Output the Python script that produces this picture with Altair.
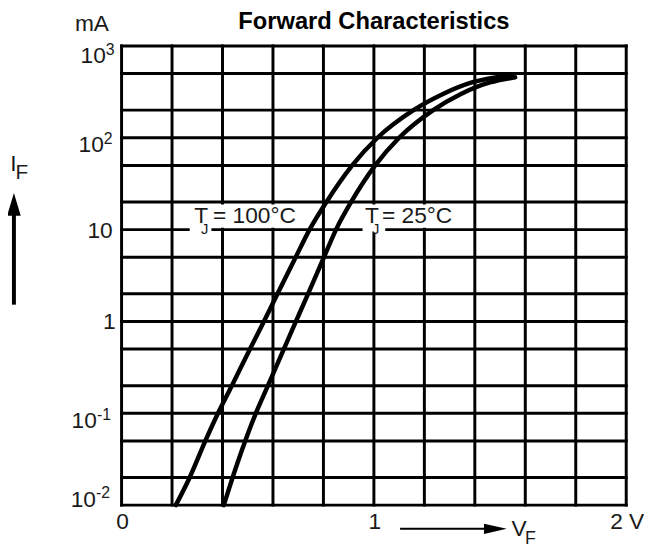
import altair as alt
import pandas as pd

# ---------------- data ----------------
x_grid = [0.0, 0.2, 0.4, 0.6, 0.8, 1.0, 1.2, 1.4, 1.6, 1.8, 2.0]
y_grid = [0.01, 0.02, 0.05, 0.1, 0.2, 0.5, 1, 2, 5, 10, 20, 50, 100, 200, 500, 1000]

# Tj = 100 °C
v_100 = [0.215, 0.27, 0.332, 0.382, 0.437, 0.509, 0.564, 0.618, 0.69, 0.745, 0.812,
         0.914, 1.014, 1.157, 1.274, 1.388, 1.548]
i_100 = [0.01, 0.02, 0.05, 0.1, 0.2, 0.5, 1, 2, 5, 10, 20,
         50, 100, 200, 300, 400, 480]

# Tj = 25 °C
v_25 = [0.405, 0.44, 0.49, 0.532, 0.58, 0.643, 0.691, 0.739, 0.802, 0.85, 0.91,
        1.005, 1.10, 1.235, 1.345, 1.46, 1.56]
i_25 = [0.01, 0.02, 0.05, 0.1, 0.2, 0.5, 1, 2, 5, 10, 20,
        50, 100, 200, 300, 400, 455]

x_tick_vals = [0, 1, 2]
x_tick_text = ["0", "1", "2 V"]

y_tick_vals = [1000, 100, 10, 1, 0.1, 0.01]
y_tick_base = ["10", "10", "10", "1", "10", "10"]
y_tick_exp = ["3", "2", "", "", "-1", "-2"]

# curve labels (annotation anchors in data units)
lab_T_x = [0.288, 0.965]
lab_J_x = [0.315, 0.992]
lab_eq_x = [0.3625, 1.032]
lab_eq_text = ["= 100°C", "= 25°C"]
lab_y = [14, 14]
lab_J_y = [10.2, 10.2]

# white backgrounds behind the labels
box_x1 = [0.262, 0.27, 0.90, 0.955]
box_x2 = [0.77, 0.356, 1.36, 1.045]
box_y1 = [10.5, 9.3, 10.5, 9.3]
box_y2 = [18.8, 10.6, 18.8, 10.6]

# ---------------- chart ----------------
W, H = 511, 465
FONT = "Liberation Sans"
TXT = "#1a1a1a"

xs = alt.Scale(domain=[0, 2], nice=False, zero=False)
ys = alt.Scale(type="log", domain=[0.01, 1000], nice=False)


def X(f):
    return alt.X(f, type="quantitative", scale=xs, axis=None)


def Y(f):
    return alt.Y(f, type="quantitative", scale=ys, axis=None)


def one(text):
    return pd.DataFrame({"t": [text]})


layers = []

# grid
layers.append(
    alt.Chart(pd.DataFrame({"i": y_grid}))
    .mark_rule(color="black", strokeWidth=3, strokeCap="square")
    .encode(y=Y("i"), x=alt.value(0), x2=alt.value(W))
)
layers.append(
    alt.Chart(pd.DataFrame({"v": x_grid}))
    .mark_rule(color="black", strokeWidth=3, strokeCap="square")
    .encode(x=X("v"), y=alt.value(0), y2=alt.value(H))
)

# label backgrounds
layers.append(
    alt.Chart(pd.DataFrame({"x1": box_x1, "x2": box_x2, "y1": box_y1, "y2": box_y2}))
    .mark_rect(color="white")
    .encode(x=X("x1"), x2="x2", y=Y("y1"), y2="y2")
)

# curve labels
layers.append(
    alt.Chart(pd.DataFrame({"x": lab_T_x, "y": lab_y, "t": ["T", "T"]}))
    .mark_text(font=FONT, fontSize=23, color=TXT, align="left", baseline="middle")
    .encode(x=X("x"), y=Y("y"), text="t:N")
)
layers.append(
    alt.Chart(pd.DataFrame({"x": lab_J_x, "y": lab_J_y, "t": ["J", "J"]}))
    .mark_text(font=FONT, fontSize=15, color=TXT, align="left", baseline="middle")
    .encode(x=X("x"), y=Y("y"), text="t:N")
)
layers.append(
    alt.Chart(pd.DataFrame({"x": lab_eq_x, "y": lab_y, "t": lab_eq_text}))
    .mark_text(font=FONT, fontSize=23, color=TXT, align="left", baseline="middle")
    .encode(x=X("x"), y=Y("y"), text="t:N")
)

# curves
curves = pd.DataFrame({
    "v": v_100 + v_25,
    "i": i_100 + i_25,
    "s": ["100"] * len(v_100) + ["25"] * len(v_25),
})
layers.append(
    alt.Chart(curves)
    .mark_line(color="black", strokeWidth=4.5, interpolate="monotone", strokeCap="round")
    .encode(x=X("v"), y=Y("i"), detail="s:N", order="v:Q")
)

# x tick labels
layers.append(
    alt.Chart(pd.DataFrame({"v": x_tick_vals, "t": x_tick_text}))
    .mark_text(font=FONT, fontSize=23, color=TXT, align="center", baseline="middle", dx=1)
    .encode(x=X("v"), y=alt.value(H + 17), text="t:N")
)

# y tick labels (base + superscript exponent)
yoff = {
    0: (-16, 10, 4),
    1: (-18, 7, 1),
    2: (-9, 1, 0),
    3: (-6, 1, 0),
    4: (-25, 8, 2),
    5: (-26, -5, -12),
}
for k, val in enumerate(y_tick_vals):
    bx, bdy, edy = yoff[k]
    layers.append(
        alt.Chart(pd.DataFrame({"i": [val], "t": [y_tick_base[k]]}))
        .mark_text(font=FONT, fontSize=23, color=TXT, align="right", baseline="middle", dy=bdy)
        .encode(x=alt.value(bx), y=Y("i"), text="t:N")
    )
    if y_tick_exp[k]:
        layers.append(
            alt.Chart(pd.DataFrame({"i": [val], "t": [y_tick_exp[k]]}))
            .mark_text(font=FONT, fontSize=16, color=TXT, align="left", baseline="middle", dy=edy)
            .encode(x=alt.value(bx), y=Y("i"), text="t:N")
        )

# unit label
layers.append(
    alt.Chart(one("mA"))
    .mark_text(font=FONT, fontSize=23, color=TXT, align="center", baseline="middle")
    .encode(x=alt.value(-30), y=alt.value(-22), text="t:N")
)

# I_F axis label with arrow
layers.append(
    alt.Chart(one("I"))
    .mark_text(font=FONT, fontSize=23, color=TXT, align="center", baseline="middle")
    .encode(x=alt.value(-109.5), y=alt.value(120), text="t:N")
)
layers.append(
    alt.Chart(one("F"))
    .mark_text(font=FONT, fontSize=21, color=TXT, align="center", baseline="middle")
    .encode(x=alt.value(-101), y=alt.value(129), text="t:N")
)
layers.append(
    alt.Chart(one("a"))
    .mark_rule(color="black", strokeWidth=4)
    .encode(x=alt.value(-109), y=alt.value(165), y2=alt.value(262))
)
layers.append(
    alt.Chart(one("a"))
    .mark_point(shape="M0,-1L0.6,1L-0.6,1Z", size=529, filled=True, color="black", opacity=1)
    .encode(x=alt.value(-109), y=alt.value(160.5))
)

# V_F axis label with arrow
layers.append(
    alt.Chart(one("a"))
    .mark_rule(color="black", strokeWidth=2)
    .encode(x=alt.value(282), x2=alt.value(370), y=alt.value(489))
)
layers.append(
    alt.Chart(one("a"))
    .mark_point(shape="M1,0L-1,-0.45L-1,0.45Z", size=529, filled=True, color="black", opacity=1)
    .encode(x=alt.value(378.5), y=alt.value(489))
)
layers.append(
    alt.Chart(one("V"))
    .mark_text(font=FONT, fontSize=23, color=TXT, align="center", baseline="middle")
    .encode(x=alt.value(402.5), y=alt.value(489.5), text="t:N")
)
layers.append(
    alt.Chart(one("F"))
    .mark_text(font=FONT, fontSize=18, color=TXT, align="center", baseline="middle")
    .encode(x=alt.value(414), y=alt.value(499), text="t:N")
)

# title
layers.append(
    alt.Chart(one("Forward Characteristics"))
    .mark_text(font=FONT, fontSize=24, fontWeight="bold", color="#000", align="center",
               baseline="alphabetic")
    .encode(x=alt.value(W / 2), y=alt.value(-17), text="t:N")
)

chart = (
    alt.layer(*layers)
    .properties(
        width=W,
        height=H,
        padding={"left": 115, "top": 35, "right": 18, "bottom": 40},
        autosize="none",
    )
    .configure_view(stroke=None)
    .configure(background="white")
)

chart.save("out.html", embed_options={"renderer": "svg", "actions": False})
